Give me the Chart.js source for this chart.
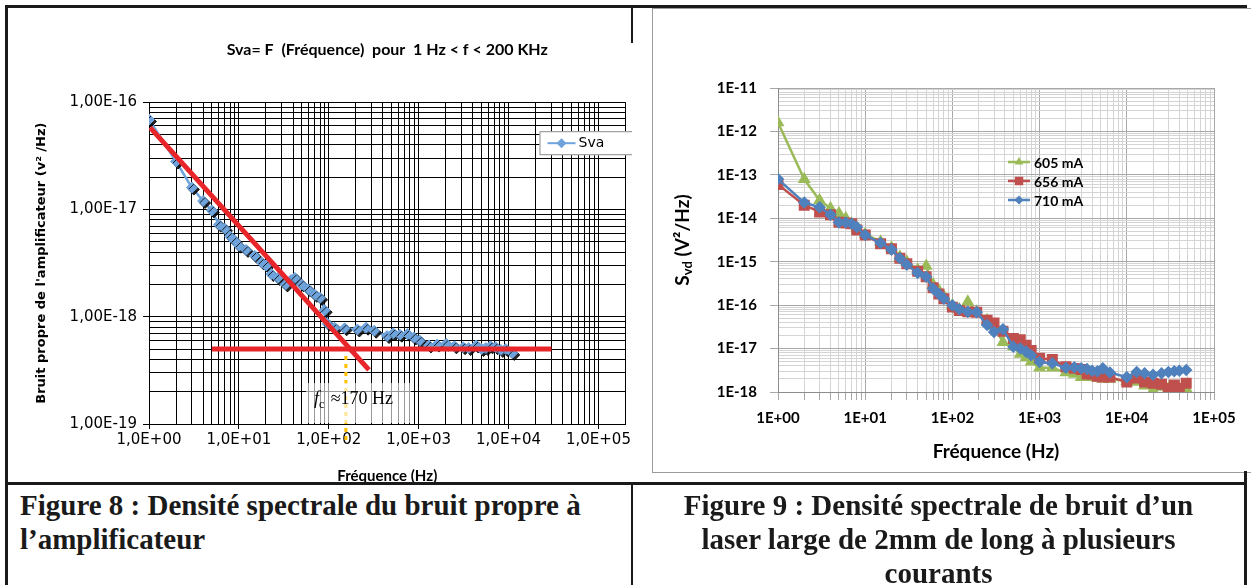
<!DOCTYPE html>
<html>
<head>
<meta charset="utf-8">
<script src="https://cdn.jsdelivr.net/npm/chart.js@4.4.1/dist/chart.umd.min.js"></script>
<style>
  body { margin: 0; background: #fff; }
  #page { position: relative; width: 1251px; height: 585px; overflow: hidden; background: #fff; }
  .ln { position: absolute; background: #1a1a1a; }
  .cap { position: absolute; font-family: "Liberation Serif", "Times New Roman", serif; font-weight: bold;
         font-size: 29px; line-height: 34px; color: #1a1a1a; white-space: nowrap; }
</style>
</head>
<body>
<div id="page">
  <div style="position:absolute;left:7px;top:7px;width:625px;height:479px"><canvas id="fig8" width="625" height="479"></canvas></div>
  <div style="position:absolute;left:652px;top:8px;width:600px;height:463px;border:1px solid #9a9a9a;background:#fff"><canvas id="fig9" width="600" height="463"></canvas></div>

  <div class="ln" style="left:5px;top:5px;width:1242px;height:3px"></div>
  <div class="ln" style="left:5px;top:5px;width:3px;height:580px"></div>
  <div class="ln" style="left:631px;top:5px;width:2px;height:38px"></div>
  <div class="ln" style="left:5px;top:482px;width:1242px;height:3px"></div>
  <div class="ln" style="left:631px;top:482px;width:2px;height:103px"></div>
  <div class="ln" style="left:1244px;top:471px;width:3px;height:114px"></div>

  <div class="cap" style="left:20px;top:488px">Figure 8 : Densité spectrale du bruit propre à<br>l’amplificateur</div>
  <div class="cap" style="left:633px;top:488px;width:611px;text-align:center">Figure 9 : Densité spectrale de bruit d’un<br>laser large de 2mm de long à plusieurs<br>courants</div>
</div>
<script>
// ---- Figure 8 : bruit propre de l'amplificateur ----
var svaFreq = [1, 2, 3, 4, 5, 6, 7, 8, 9, 10, 12, 15, 18, 20, 23, 27, 33, 38, 42, 50, 59, 70, 80, 90, 97,
  116, 150, 208, 260, 320, 445, 520, 617, 750, 881, 1025, 1300, 1600, 2030, 2500, 3120, 3600, 4360, 5000,
  5590, 6300, 7190, 8200, 9300, 11000]
var svaValue = [6.9e-17, 2.8e-17, 1.6e-17, 1.2e-17, 9.8e-18, 7.2e-18, 6.6e-18, 5.6e-18, 5.1e-18, 4.6e-18,
  4.2e-18, 3.7e-18, 3.2e-18, 3.0e-18, 2.5e-18, 2.3e-18, 2.0e-18, 2.2e-18, 2.3e-18, 2.0e-18, 1.8e-18, 1.6e-18,
  1.5e-18, 1.15e-18, 8.6e-19, 7.9e-19, 7.8e-19, 7.6e-19, 7.9e-19, 7.4e-19, 6.6e-19, 7.0e-19, 6.8e-19, 6.9e-19,
  6.4e-19, 6.0e-19, 5.4e-19, 5.5e-19, 5.6e-19, 5.3e-19, 5.2e-19, 5.1e-19, 5.4e-19, 5.0e-19, 5.1e-19, 5.3e-19,
  5.2e-19, 4.9e-19, 5.0e-19, 4.6e-19]
var slopeFreq = [1.03, 280]
var slopeValue = [5.8e-17, 3.2e-19]
var floorFreq = [5, 30000]
var floorValue = [5e-19, 5e-19]
var fcFreq = [155, 155]
var fcValue = [4.3e-19, 7e-20]
var leftXLabels = ['1,0E+00', '1,0E+01', '1,0E+02', '1,0E+03', '1,0E+04', '1,0E+05']
var leftYLabels = ['1,00E-19', '1,00E-18', '1,00E-17', '1,00E-16']

// ---- Figure 9 : laser large 2mm ----
var laserFreq = [1, 2, 3, 4, 5, 6, 7, 8, 10, 15, 20, 25, 30, 40, 50, 60, 70, 80, 100, 120, 150, 190, 250,
  300, 380, 500, 600, 700, 800, 1000, 1400, 2000, 2500, 3000, 3500, 4000, 4600, 5300, 6400, 10000, 13000,
  16000, 20000, 25000, 30000, 35000, 40000, 48000]
var s605 = [1.6e-12, 7.9e-14, 2.6e-14, 1.7e-14, 1.3e-14, 1.0e-14, 7.5e-15, 6.0e-15, 4.3e-15, 2.9e-15, 2.1e-15,
  1.3e-15, 1.0e-15, 6.5e-16, 8.0e-16, 3.0e-16, 2.2e-16, 1.6e-16, 1.0e-16, 8.0e-17, 1.2e-16, 7.0e-17, 4.5e-17,
  3.3e-17, 1.4e-17, 1.1e-17, 7.5e-18, 6.2e-18, 5.0e-18, 3.6e-18, 3.6e-18, 2.8e-18, 2.6e-18, 2.2e-18, 2.3e-18,
  2.2e-18, 2.1e-18, 2.0e-18, 2.0e-18, 1.8e-18, 1.7e-18, 1.4e-18, 1.1e-18, 1.3e-18, 1.2e-18, 1.3e-18, 1.2e-18, 1.2e-18]
var s656 = [6.0e-14, 2.0e-14, 1.4e-14, 1.2e-14, 8.1e-15, 7.8e-15, 7.5e-15, 5.4e-15, 4.1e-15, 2.6e-15, 2.0e-15,
  1.2e-15, 9.0e-16, 6.0e-16, 4.5e-16, 2.5e-16, 1.8e-16, 1.4e-16, 9.0e-17, 7.5e-17, 7.0e-17, 6.9e-17, 4.5e-17,
  3.9e-17, 2.5e-17, 1.7e-17, 1.6e-17, 1.2e-17, 9.0e-18, 6.0e-18, 5.6e-18, 3.8e-18, 3.5e-18, 3.3e-18, 2.6e-18,
  2.6e-18, 2.3e-18, 2.2e-18, 2.2e-18, 1.7e-18, 2.1e-18, 1.7e-18, 1.6e-18, 1.5e-18, 1.2e-18, 1.45e-18, 1.2e-18, 1.6e-18]
var s710 = [8.0e-14, 2.3e-14, 1.8e-14, 1.2e-14, 8.0e-15, 8.0e-15, 7.5e-15, 6.3e-15, 4.1e-15, 2.7e-15, 1.9e-15,
  1.2e-15, 8.5e-16, 5.5e-16, 4.5e-16, 2.4e-16, 1.8e-16, 1.4e-16, 1.0e-16, 8.0e-17, 7.0e-17, 6.9e-17, 3.5e-17,
  2.4e-17, 2.8e-17, 1.1e-17, 1.0e-17, 8.5e-18, 7.0e-18, 4.9e-18, 4.6e-18, 3.6e-18, 3.7e-18, 3.5e-18, 3.4e-18,
  3.1e-18, 3.0e-18, 3.5e-18, 2.8e-18, 2.2e-18, 2.9e-18, 2.7e-18, 2.5e-18, 2.7e-18, 2.9e-18, 3.0e-18, 3.1e-18, 3.2e-18]
var rightXLabels = ['1E+00', '1E+01', '1E+02', '1E+03', '1E+04', '1E+05']
var rightYLabels = ['1E-18', '1E-17', '1E-16', '1E-15', '1E-14', '1E-13', '1E-12', '1E-11']

function pts(xs, ys) {
  return xs.map(function (x, i) { return {x: x, y: ys[i]} })
}

// 1..9 x 10^e for every decade, plus the top decade (and an odd axis end if any)
function logTicks(minExp, maxExp, extra) {
  var t = []
  for (var e = minExp; e < maxExp; e++)
    for (var m = 1; m < 10; m++) t.push({value: m * Math.pow(10, e)})
  t.push({value: Math.pow(10, maxExp)})
  if (extra) t.push({value: extra})
  return t
}
function isDecade(v) {
  var l = Math.log10(v)
  return Math.abs(l - Math.round(l)) < 1e-6
}
function decadeLabel(labels, minExp) {
  return function (v) {
    return isDecade(v) ? (labels[Math.round(Math.log10(v)) - minExp] || '') : ''
  }
}

function marker(ctx, style, x, y, r, color) {
  ctx.fillStyle = color
  ctx.beginPath()
  if (style === 'triangle') {
    ctx.moveTo(x, y - r)
    ctx.lineTo(x + r * 0.866, y + r / 2)
    ctx.lineTo(x - r * 0.866, y + r / 2)
  } else if (style === 'rect') {
    var s = r * Math.SQRT1_2
    ctx.rect(x - s, y - s, 2 * s, 2 * s)
  } else {
    ctx.moveTo(x, y - r); ctx.lineTo(x + r, y); ctx.lineTo(x, y + r); ctx.lineTo(x - r, y)
  }
  ctx.closePath()
  ctx.fill()
}

// black offset shadow under the Sva markers (as in the Excel picture)
var svaShadow = {
  id: 'svaShadow',
  beforeDatasetDraw: function (chart, args) {
    if (!chart.data.datasets[args.index].shadow) return
    var ctx = chart.ctx
    ctx.save()
    ctx.shadowColor = 'rgba(0,0,0,0.85)'
    ctx.shadowOffsetX = 2
    ctx.shadowOffsetY = 2
    ctx.shadowBlur = 0
  },
  afterDatasetDraw: function (chart, args) {
    if (!chart.data.datasets[args.index].shadow) return
    chart.ctx.restore()
  }
}

var svaLegend = {
  id: 'svaLegend',
  afterDraw: function (chart) {
    var ctx = chart.ctx, a = chart.chartArea
    var ds = chart.data.datasets[0]
    var x = a.right - 86, y = a.top + 29
    ctx.save()
    ctx.fillStyle = '#fff'
    ctx.fillRect(x, y, 100, 24)
    ctx.strokeStyle = '#8c8c8c'
    ctx.lineWidth = 1
    ctx.strokeRect(x + 0.5, y + 0.5, 100, 23)
    ctx.strokeStyle = ds.borderColor
    ctx.lineWidth = 2
    ctx.beginPath(); ctx.moveTo(x + 8, y + 12); ctx.lineTo(x + 36, y + 12); ctx.stroke()
    marker(ctx, 'rectRot', x + 22, y + 12, 5, ds.borderColor)
    ctx.fillStyle = '#000'
    ctx.font = '14px "DejaVu Sans"'
    ctx.textBaseline = 'middle'
    ctx.fillText(ds.label, x + 39, y + 12)
    ctx.restore()
  }
}

var fcLabel = {
  id: 'fcLabel',
  afterDatasetsDraw: function (chart) {
    var ctx = chart.ctx, a = chart.chartArea
    var x = chart.scales.x.getPixelForValue(fcFreq[0]) - 32
    var y = a.bottom - 20
    ctx.save()
    ctx.fillStyle = 'rgba(255,255,255,0.6)'
    ctx.fillRect(x - 8, a.bottom - 41, 105, 40)
    ctx.fillStyle = '#000'
    ctx.textBaseline = 'alphabetic'
    ctx.font = 'italic 18px "Liberation Serif"'
    ctx.fillText('f', x, y)
    x += ctx.measureText('f').width
    ctx.font = '12px "Liberation Serif"'
    ctx.fillText('c', x, y + 4)
    x += ctx.measureText('c').width + 2
    ctx.font = '18px "Liberation Serif"'
    ctx.fillText(' \u2248170 Hz', x, y)
    ctx.restore()
  }
}

var laserLegend = {
  id: 'laserLegend',
  afterDraw: function (chart) {
    var ctx = chart.ctx, a = chart.chartArea
    var mx = a.left + 241
    chart.data.datasets.forEach(function (ds, i) {
      var y = a.top + 74 + i * 19
      ctx.save()
      ctx.strokeStyle = ds.borderColor
      ctx.lineWidth = 2.5
      ctx.beginPath(); ctx.moveTo(mx - 11, y); ctx.lineTo(mx + 11, y); ctx.stroke()
      marker(ctx, ds.pointStyle, mx, y, ds.pointRadius, ds.backgroundColor)
      ctx.fillStyle = '#000'
      ctx.font = 'bold 14px Lato'
      ctx.textBaseline = 'middle'
      ctx.fillText(ds.label, mx + 15, y + 1)
      ctx.restore()
    })
  }
}

var svdTitle = {
  id: 'svdTitle',
  afterDraw: function (chart) {
    var ctx = chart.ctx, a = chart.chartArea
    var big = 'bold 19px Lato', small = 'bold 13px Lato'
    ctx.save()
    ctx.translate(30, (a.top + a.bottom) / 2)
    ctx.rotate(-Math.PI / 2)
    ctx.font = big; var w1 = ctx.measureText('S').width, w3 = ctx.measureText(' (V\u00b2/Hz)').width
    ctx.font = small; var w2 = ctx.measureText('vd').width
    var x = -(w1 + w2 + w3) / 2
    ctx.fillStyle = '#000'
    ctx.textBaseline = 'middle'
    ctx.font = big; ctx.fillText('S', x, 0); x += w1
    ctx.font = small; ctx.fillText('vd', x, 5); x += w2
    ctx.font = big; ctx.fillText(' (V\u00b2/Hz)', x, 0)
    ctx.restore()
  }
}

var redLine = '#e8262a'
var svaBlue = '#6fa3dc'

new Chart(document.getElementById('fig8'), {
  type: 'scatter',
  data: {
    datasets: [
      {label: 'Sva', data: pts(svaFreq, svaValue), showLine: true, borderColor: svaBlue, borderWidth: 2.5,
        pointRadius: 0, order: 3},
      {label: 'Sva points', data: pts(svaFreq, svaValue), showLine: false, shadow: true, borderColor: svaBlue,
        backgroundColor: svaBlue, pointStyle: 'rectRot', pointRadius: 5.5, order: 2},
      {label: 'pente', data: pts(slopeFreq, slopeValue), showLine: true, borderColor: redLine, borderWidth: 5,
        pointRadius: 0, order: 1},
      {label: 'plancher', data: pts(floorFreq, floorValue), showLine: true, borderColor: redLine, borderWidth: 5,
        pointRadius: 0, order: 1},
      {label: 'fc', data: pts(fcFreq, fcValue), showLine: true, borderColor: '#ffc000', borderWidth: 3,
        borderDash: [4, 4], pointRadius: 0, clip: false, order: 0}
    ]
  },
  options: {
    responsive: false,
    animation: false,
    events: [],
    layout: {padding: 0},
    plugins: {
      legend: {display: false},
      tooltip: {enabled: false},
      title: {
        display: true, fullSize: false,
        text: 'Sva= F  (Fréquence)  pour  1 Hz < f < 200 KHz',
        color: '#000', font: {family: 'Lato', size: 16, weight: 'bold'},
        padding: {top: 33, bottom: 43}
      }
    },
    scales: {
      x: {
        type: 'logarithmic', min: 1, max: 2e5,
        afterBuildTicks: function (s) { s.ticks = logTicks(0, 5, 2e5) },
        afterFit: function (s) { s.height = 62 },
        ticks: {autoSkip: false, maxRotation: 0, minRotation: 0, padding: 2, color: '#000',
          font: {family: 'DejaVu Sans', size: 15}, callback: decadeLabel(leftXLabels, 0)},
        grid: {color: '#000', tickLength: 5,
          tickColor: function (c) { return c.tick && isDecade(c.tick.value) ? '#000' : 'rgba(0,0,0,0)' }},
        border: {color: '#000'},
        title: {display: true, text: 'Fréquence (Hz)', color: '#000',
          font: {family: 'Lato', size: 15, weight: 'bold'}, padding: {top: 0, bottom: 1}}
      },
      y: {
        type: 'logarithmic', min: 1e-19, max: 1e-16,
        afterBuildTicks: function (s) { s.ticks = logTicks(-19, -16) },
        afterFit: function (s) { s.width = 142 },
        ticks: {autoSkip: false, padding: 6, color: '#000',
          font: {family: 'DejaVu Sans', size: 15}, callback: decadeLabel(leftYLabels, -19)},
        grid: {color: '#000', tickLength: 6,
          tickColor: function (c) { return c.tick && isDecade(c.tick.value) ? '#000' : 'rgba(0,0,0,0)' }},
        border: {color: '#000'},
        title: {display: true, text: 'Bruit propre de l\'amplificateur (v\u00b2 /Hz)', color: '#000',
          font: {family: 'DejaVu Sans', size: 13, weight: 'bold'}, padding: {top: 27, bottom: 0}}
      }
    }
  },
  plugins: [svaShadow, fcLabel, svaLegend]
})

function gridGrey(c) {
  return c.tick && isDecade(c.tick.value) ? '#a8a8a8' : '#d4d4d4'
}

new Chart(document.getElementById('fig9'), {
  type: 'scatter',
  data: {
    datasets: [
      {label: '605 mA', data: pts(laserFreq, s605), showLine: true, borderColor: '#9bbb59', backgroundColor: '#9bbb59',
        borderWidth: 2.5, pointStyle: 'triangle', pointRadius: 5, order: 3},
      {label: '656 mA', data: pts(laserFreq, s656), showLine: true, borderColor: '#c0504d', backgroundColor: '#c0504d',
        borderWidth: 2.5, pointStyle: 'rect', pointRadius: 6, order: 2},
      {label: '710 mA', data: pts(laserFreq, s710), showLine: true, borderColor: '#4f81bd', backgroundColor: '#4f81bd',
        borderWidth: 2.5, pointStyle: 'rectRot', pointRadius: 4.5, order: 1}
    ]
  },
  options: {
    responsive: false,
    animation: false,
    events: [],
    layout: {padding: {top: 79, right: 39, left: 0, bottom: 0}},
    plugins: {legend: {display: false}, tooltip: {enabled: false}},
    scales: {
      x: {
        type: 'logarithmic', min: 1, max: 1e5,
        afterBuildTicks: function (s) { s.ticks = logTicks(0, 5) },
        afterFit: function (s) { s.height = 80 },
        ticks: {autoSkip: false, maxRotation: 0, minRotation: 0, padding: 9, color: '#000',
          font: {family: 'Lato', size: 15, weight: 'bold'}, callback: decadeLabel(rightXLabels, 0)},
        grid: {color: gridGrey, tickLength: 8, tickColor: '#a8a8a8'},
        border: {color: '#8c8c8c'},
        title: {display: true, text: 'Fréquence (Hz)', color: '#000',
          font: {family: 'Lato', size: 19, weight: 'bold'}, padding: {top: 0, bottom: 9}}
      },
      y: {
        type: 'logarithmic', min: 1e-18, max: 1e-11,
        afterBuildTicks: function (s) { s.ticks = logTicks(-18, -11) },
        afterFit: function (s) { s.width = 125 },
        ticks: {autoSkip: false, padding: 13, color: '#000',
          font: {family: 'Lato', size: 15, weight: 'bold'}, callback: decadeLabel(rightYLabels, -18)},
        grid: {color: gridGrey, tickLength: 8,
          tickColor: function (c) { return c.tick && isDecade(c.tick.value) ? '#a8a8a8' : 'rgba(0,0,0,0)' }},
        border: {color: '#8c8c8c'}
      }
    }
  },
  plugins: [laserLegend, svdTitle]
})
</script>
</body>
</html>
